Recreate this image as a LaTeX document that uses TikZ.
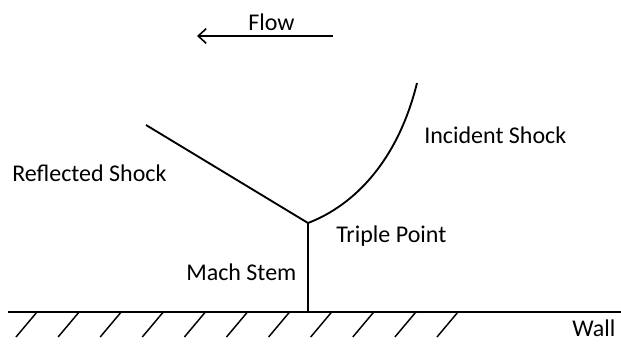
\documentclass[tikz,border=0pt]{standalone}
\usepackage{fontspec}
\setmainfont{Carlito}
\usetikzlibrary{arrows.meta}
\begin{document}
\begin{tikzpicture}[x=0.75pt,y=-0.75pt,
  lbl/.style={anchor=base west,inner sep=0pt,font=\fontsize{18}{21}\selectfont},
  shock/.style={line width=1.4pt,black},
  hatch/.style={line width=1.1pt,black}]
\useasboundingbox (0,0) rectangle (621,343);
% wall
\coordinate (wl) at (8,312);
\coordinate (wr) at (621,312);
\draw[shock] (wl) -- (wr);
\foreach \i in {0,...,10}{
  \draw[hatch] (37+\i*42.1,312) -- ++(-21,25);
}
% shocks
\coordinate (tp) at (308,223);
\coordinate (ms) at (308,312);
\coordinate (rs) at (146,125);
\coordinate (is) at (417,83);
\draw[shock] (ms) -- (tp);
\draw[shock] (rs) -- (tp);
\draw[shock] (tp) .. controls (355,205) and (398,160) .. (is);
% flow arrow
\coordinate (fa) at (333,36);
\coordinate (fb) at (197,36);
\draw[shock,-{Straight Barb[length=6pt,width=11pt,line width=1.2pt]}] (fa) -- (fb);
% labels
\node[lbl] (flow) at (248,30) {Flow};
\node[lbl] (inc) at (424,143) {Incident Shock};
\node[lbl] (ref) at (12,181) {Reflected Shock};
\node[lbl] (trip) at (336,242) {Triple Point};
\node[lbl] (mach) at (186,280) {Mach Stem};
\node[lbl] (wall) at (572,336) {Wall};
\end{tikzpicture}
\end{document}
